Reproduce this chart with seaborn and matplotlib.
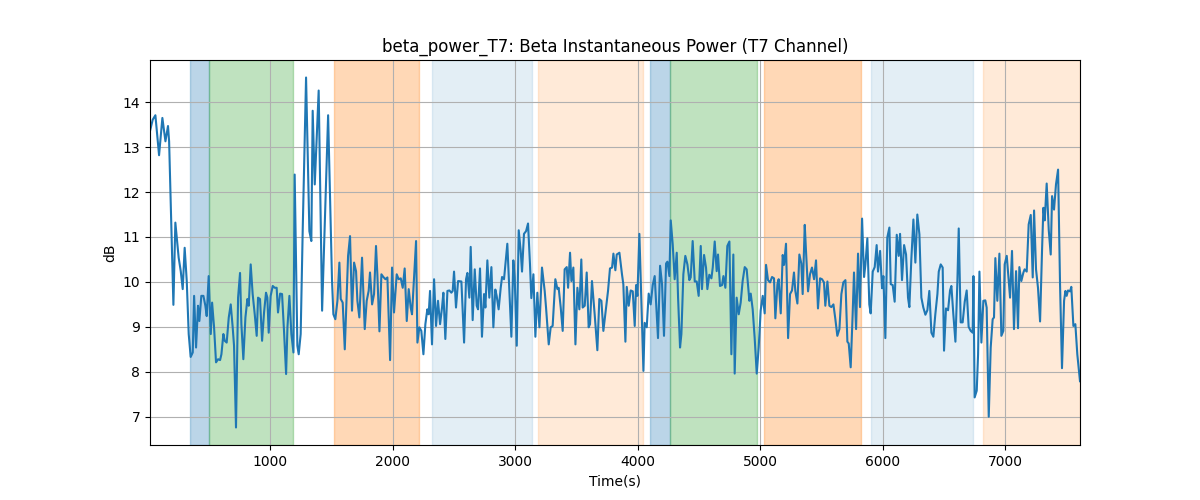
import matplotlib
matplotlib.use("Agg")
import matplotlib.pyplot as plt
import seaborn as sns

# datos
tiempo = [
    20, 42, 64, 94, 121, 146, 167, 176, 211, 227, 254, 271, 287, 303, 320, 336, 352, 369, 380, 396,
    412, 423, 439, 456, 472, 483, 499, 516, 527, 543, 559, 576, 592, 603, 619, 630, 646, 663, 679, 695,
    706, 722, 739, 755, 766, 782, 799, 815, 826, 842, 858, 875, 891, 902, 918, 935, 951, 967, 978, 989,
    1005, 1022, 1038, 1054, 1065, 1082, 1098, 1114, 1131, 1142, 1158, 1174, 1191, 1201, 1223, 1234, 1250, 1267, 1294,
    1321, 1337, 1348, 1365, 1397, 1425, 1474, 1506, 1517, 1533, 1550, 1566, 1577, 1593, 1610, 1626, 1637, 1653,
    1669, 1686, 1702, 1713, 1729, 1751, 1773, 1789, 1805, 1816, 1833, 1849, 1865, 1876, 1893, 1909, 1925, 1942,
    1958, 1980, 1996, 2012, 2034, 2050, 2067, 2083, 2099, 2116, 2132, 2148, 2159, 2192, 2203, 2219, 2235, 2252,
    2268, 2284, 2295, 2306, 2322, 2339, 2355, 2371, 2388, 2404, 2415, 2431, 2448, 2464, 2480, 2491, 2502, 2518, 2535,
    2562, 2584, 2600, 2611, 2627, 2638, 2654, 2671, 2687, 2698, 2714, 2730, 2747, 2758, 2774, 2790, 2807, 2823,
    2839, 2850, 2866, 2883, 2894, 2910, 2937, 2970, 2986, 2997, 3014, 3030, 3046, 3057, 3073, 3090, 3106, 3122,
    3133, 3150, 3166, 3182, 3199, 3220, 3242, 3253, 3275, 3291, 3307, 3329, 3346, 3356, 3373, 3389, 3405, 3422,
    3433, 3449, 3460, 3476, 3493, 3509, 3525, 3541, 3552, 3569, 3585, 3601, 3612, 3628, 3650, 3672, 3688, 3705,
    3721, 3737, 3759, 3775,
    3792, 3803, 3819, 3830, 3852, 3873, 3884, 3901, 3912, 3928, 3944, 3961, 3977, 3988, 3999, 4015, 4031, 4048,
    4058, 4075, 4091, 4107, 4124, 4140, 4167, 4184, 4200, 4216, 4233, 4244, 4260, 4271, 4287, 4303, 4320, 4331,
    4347, 4358, 4374, 4390, 4407, 4423, 4434, 4450, 4467, 4483, 4499, 4516, 4526, 4543, 4559, 4570, 4586, 4603,
    4614, 4630, 4646, 4657, 4673, 4690, 4701, 4717, 4733, 4750, 4766, 4782, 4793, 4809, 4826, 4842, 4858, 4875,
    4891, 4913, 4924, 4940, 4956, 4973,
    4989, 5005, 5022, 5038, 5049, 5065, 5082, 5098, 5114, 5125, 5142, 5152, 5169, 5185, 5196, 5212, 5229, 5245,
    5261, 5277, 5288, 5305, 5321, 5337, 5348, 5365, 5375, 5392, 5408, 5424, 5441, 5457, 5473, 5490, 5506, 5522,
    5533, 5550, 5566, 5582, 5599, 5615, 5631, 5648, 5664, 5680, 5697, 5713, 5724, 5740, 5756, 5767, 5784, 5800,
    5816, 5833, 5849, 5860, 5876, 5892, 5903, 5920, 5936, 5952, 5963, 5980, 5996, 6007, 6023, 6039, 6056, 6067,
    6083, 6099, 6116, 6132, 6143, 6159, 6176, 6192, 6208, 6219,
    6235, 6252, 6268, 6284, 6301, 6317, 6333, 6350, 6366, 6382, 6399, 6415, 6431, 6448, 6459, 6475, 6491, 6502,
    6518, 6535, 6551, 6562, 6578, 6595, 6611, 6622, 6638, 6654, 6671, 6687, 6703, 6720, 6736, 6742, 6752, 6769,
    6780, 6791, 6807, 6823, 6839, 6850, 6867, 6883, 6899, 6910, 6921, 6937, 6954, 6970, 6986, 6997, 7014, 7030,
    7041, 7057, 7073, 7090, 7106, 7117, 7133, 7150, 7160, 7177, 7193, 7210, 7226, 7237, 7253, 7269, 7286, 7302,
    7313, 7324, 7340, 7357, 7373, 7384, 7400, 7416, 7433, 7449, 7465, 7482, 7493, 7503, 7514, 7531, 7541, 7558,
    7574, 7590, 7612,
]

potencia_db = [
    13.36, 13.61, 13.71, 12.82, 13.65, 13.13, 13.47, 13.13, 9.49, 11.32, 10.54, 10.24, 9.84, 10.76, 10.02, 8.84, 8.33, 8.43, 9.69, 8.54,
    9.47, 9.13, 9.69, 9.69, 9.47, 9.24, 10.13, 8.84, 9.54, 8.99, 8.21, 8.28, 8.26, 8.39, 8.84, 8.69, 8.65, 9.21, 9.50, 8.99,
    8.58, 6.76, 9.65, 10.20, 9.06, 8.28, 9.21, 9.62, 9.47, 10.39, 9.73, 9.28, 8.80, 9.65, 9.62, 8.69, 9.32, 9.76, 9.65, 8.87,
    9.69, 9.91, 9.87, 9.87, 9.32, 9.74, 9.73, 8.91, 7.95, 8.99, 9.69, 8.84, 8.43, 12.39, 8.58, 8.39, 8.84, 11.2, 14.55,
    11.13, 10.91, 13.81, 12.17, 14.26, 9.36, 13.71, 10.02, 9.28, 9.17, 9.58, 10.43, 9.62, 9.54, 8.50, 9.73, 10.58, 11.02,
    9.36, 10.43, 10.24, 9.58, 9.21, 10.54, 8.95, 9.58, 9.80, 10.21, 9.50, 9.73, 10.80, 10.17, 8.90, 10.17, 10.11, 10.06,
    10.10, 8.26, 10.32, 9.32, 10.17, 10.06, 10.08, 9.87, 10.30, 9.13, 9.84, 9.43, 9.28, 10.91, 8.65, 8.99, 8.91, 8.39,
    9.06, 9.39, 9.28, 9.80, 8.61, 10.06, 9.02, 9.58, 9.06, 9.43, 9.76, 8.73, 9.80, 9.81, 9.76, 9.80, 10.23, 9.43, 10.02,
    10.01, 8.65, 10.06, 10.20, 9.65, 10.78, 9.15, 10.28, 9.47, 9.39, 10.30, 8.78, 9.73, 9.43, 10.48, 9.65, 10.33, 8.99,
    9.83, 9.69, 9.39, 9.87, 10.11, 10.06, 10.85, 8.78, 10.48, 10.10, 8.58, 11.15, 10.69, 10.23, 11.07, 11.13, 11.30, 10.39,
    9.64, 10.17, 8.78, 9.76, 8.99, 10.32, 9.80, 9.43, 8.61, 8.99, 9.02, 10.06, 9.84, 9.87, 9.43, 8.91, 10.28, 10.33,
    9.87, 10.65, 10.02, 10.32, 8.61, 9.87, 9.39, 10.50, 9.43, 9.47, 10.21, 8.99, 9.06, 10.02, 9.28, 8.48, 9.62, 9.58,
    8.91, 9.28, 9.80, 10.30,
    10.32, 10.63, 10.26, 10.61, 10.65, 10.17, 9.95, 8.67, 9.89, 9.47, 9.81, 9.79, 9.02, 9.93, 9.69, 11.07, 9.58, 8.02,
    9.09, 8.99, 9.74, 9.50, 9.93, 10.13, 8.75, 10.36, 9.95, 8.80, 10.41, 10.45, 10.13, 11.37, 10.84, 10.06, 10.65, 9.64,
    8.54, 8.84, 10.17, 10.58, 10.39, 10.04, 10.10, 10.91, 10.01, 10.01, 9.69, 10.80, 9.84, 10.60, 10.32, 9.84, 10.16, 10.08,
    10.32, 10.90, 10.24, 10.61, 9.91, 9.93, 10.13, 9.87, 10.80, 10.90, 8.39, 10.61, 7.96, 9.65, 9.28, 9.54, 10.02, 10.33,
    10.28, 9.58, 9.74, 9.39, 8.76, 7.96,
    8.54, 9.36, 9.69, 9.30, 10.38, 10.04, 9.99, 10.11, 10.08, 9.19, 9.95, 10.06, 9.30, 10.60, 10.38, 10.85, 8.75, 9.73,
    9.81, 10.21, 9.80, 9.52, 10.61, 10.41, 9.73, 11.27, 10.70, 9.79, 10.17, 10.32, 10.06, 10.48, 9.41, 10.08, 10.06, 9.99,
    9.47, 10.01, 9.47, 9.44, 9.50, 9.17, 8.80, 8.95, 9.73, 9.99, 10.04, 8.67, 8.63, 8.10, 9.28, 10.21, 8.95, 10.63,
    9.44, 11.41, 10.11, 10.38, 10.97, 9.50, 9.30, 10.23, 10.33, 10.82, 10.23, 10.69, 9.86, 10.13, 8.75, 10.99, 11.21, 9.95,
    9.93, 9.56, 11.05, 10.58, 11.07, 10.04, 10.82, 10.61, 9.65, 9.44,
    10.50, 11.39, 10.43, 11.50, 11.06, 9.65, 9.43, 9.27, 9.37, 9.80, 8.87, 8.78, 9.28, 9.73, 10.23, 10.39, 10.32, 8.47,
    9.41, 9.37, 9.81, 9.91, 9.28, 8.67, 10.01, 11.19, 9.10, 9.10, 9.56, 9.81, 9.00, 8.91, 8.87, 10.13, 7.43, 7.58,
    8.39, 10.23, 8.65, 9.58, 9.59, 9.43, 7.00, 8.54, 9.17, 9.21, 10.53, 9.58, 10.63, 8.80, 8.91, 10.39, 10.58, 10.02,
    9.65, 10.69, 8.95, 10.24, 8.97, 10.33, 10.02, 10.21, 10.28, 10.23, 11.28, 11.49, 10.10, 11.59, 10.28, 9.87, 9.12, 10.69,
    11.65, 11.37, 12.19, 11.15, 10.61, 11.91, 11.61, 12.17, 12.50, 9.95, 8.08, 9.58, 9.80, 9.69, 9.81, 9.79, 9.89, 9.02,
    9.06, 8.39, 7.79,
]

# segmentos sombreados (inicio, fin, tipo)
seg_inicio = [347, 504, 1522, 2325, 3188, 4102, 4268, 5033, 5906, 6820]
seg_fin = [504, 1190, 2214, 3135, 4042, 4268, 4973, 5822, 6736, 7612]
seg_tipo = ["azul", "verde", "naranja", "azul_claro", "naranja_claro",
            "azul", "verde", "naranja", "azul_claro", "naranja_claro"]

estilos = {
    "azul": ("tab:blue", 0.3),
    "verde": ("tab:green", 0.3),
    "naranja": ("tab:orange", 0.3),
    "azul_claro": ("tab:blue", 0.12),
    "naranja_claro": ("tab:orange", 0.16),
}

# GRAFICA
fig, ax = plt.subplots(figsize=(12, 5))

for ini, fin, tipo in zip(seg_inicio, seg_fin, seg_tipo):
    color, alfa = estilos[tipo]
    ax.axvspan(ini, fin, color=color, alpha=alfa)

sns.lineplot(x=tiempo, y=potencia_db, ax=ax, color="tab:blue", linewidth=1.5)

ax.set_xlim(tiempo[0], tiempo[-1])
ax.set_title("beta_power_T7: Beta Instantaneous Power (T7 Channel)")
ax.set_xlabel("Time(s)")
ax.set_ylabel("dB")
ax.grid(True)

plt.savefig("out.png", dpi=100)
